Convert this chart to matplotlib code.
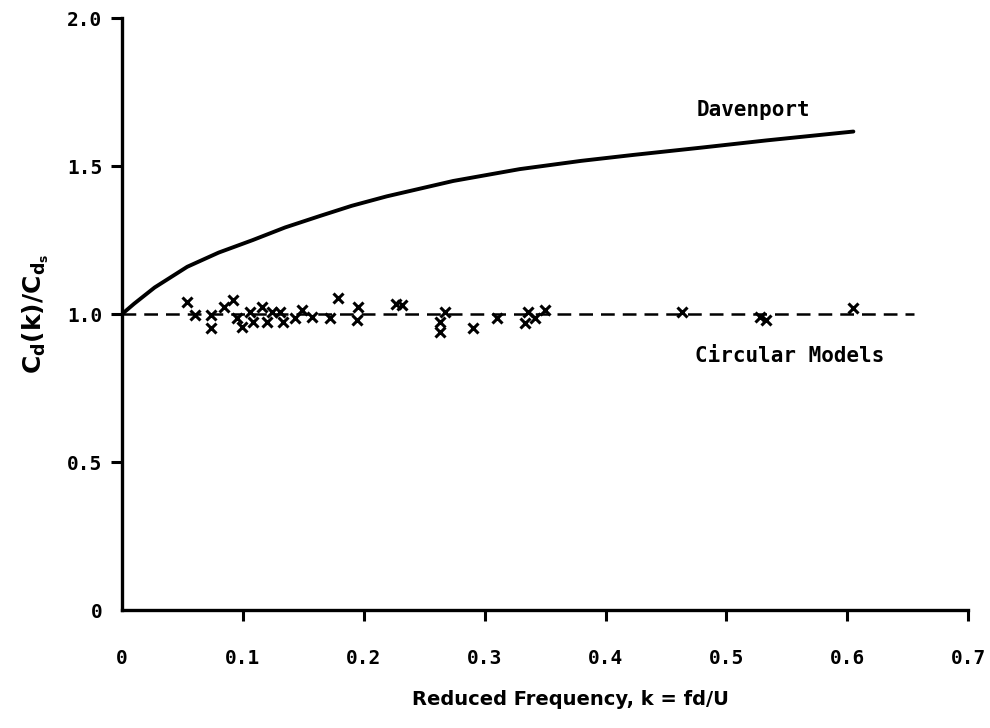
import matplotlib.pyplot as plt

# Davenport curve
davenport_k = [0.0, 0.01, 0.027, 0.054, 0.08, 0.108, 0.135, 0.164, 0.19, 0.219,
               0.274, 0.329, 0.38, 0.423, 0.48, 0.533, 0.605]
davenport_ratio = [1.0, 1.035, 1.09, 1.16, 1.208, 1.25, 1.293, 1.332, 1.366, 1.398,
                   1.45, 1.49, 1.518, 1.538, 1.563, 1.587, 1.617]

# circular model reference line
circular_k = [0.0, 0.655]
circular_ratio = [1.0, 1.0]

# measured points (x marks)
model_k = [0.054, 0.060, 0.074, 0.074, 0.084, 0.092, 0.095, 0.099, 0.106, 0.108,
           0.116, 0.120, 0.124, 0.131, 0.133, 0.143, 0.149, 0.157, 0.172, 0.179,
           0.195, 0.194, 0.227, 0.232, 0.267, 0.263, 0.263, 0.290, 0.310, 0.336,
           0.342, 0.333, 0.350, 0.463, 0.528, 0.533, 0.605]
model_ratio = [1.041, 0.997, 0.997, 0.953, 1.024, 1.047, 0.986, 0.956, 1.007, 0.973,
               1.024, 0.973, 1.007, 1.007, 0.973, 0.986, 1.014, 0.990, 0.986, 1.054,
               1.024, 0.980, 1.034, 1.030, 1.007, 0.973, 0.939, 0.953, 0.986, 1.007,
               0.986, 0.970, 1.014, 1.007, 0.990, 0.980, 1.020]

x_ticks = [0.0, 0.1, 0.2, 0.3, 0.4, 0.5, 0.6, 0.7]
x_labels = ["0", "0.1", "0.2", "0.3", "0.4", "0.5", "0.6", "0.7"]
y_ticks = [0.0, 0.5, 1.0, 1.5, 2.0]
y_labels = ["0", "0.5", "1.0", "1.5", "2.0"]

mono = "DejaVu Sans Mono"

fig = plt.figure(figsize=(9.9, 7.28), dpi=100)
ax = fig.add_axes([0.1232, 0.162, 0.8548, 0.813])

ax.plot(davenport_k, davenport_ratio, color="black", lw=2.8, solid_capstyle="round")
ax.plot(circular_k, circular_ratio, color="black", lw=1.8, linestyle=(0, (5.5, 3.2)))
ax.plot(model_k, model_ratio, linestyle="none", marker="x", color="black",
        markersize=7, markeredgewidth=2.2)

ax.text(0.522, 1.69, "Davenport", fontfamily=mono, fontweight="bold", fontsize=15,
        ha="center", va="center")
ax.text(0.5525, 0.86, "Circular Models", fontfamily=mono, fontweight="bold", fontsize=15,
        ha="center", va="center")

ax.set_xlim(0, 0.7)
ax.set_ylim(0, 2.0)
ax.set_xticks(x_ticks)
ax.set_xticklabels(x_labels, fontfamily=mono, fontweight="bold", fontsize=14)
ax.set_yticks(y_ticks)
ax.set_yticklabels(y_labels, fontfamily=mono, fontweight="bold", fontsize=14)
ax.tick_params(axis="x", direction="out", length=8, width=2.2, pad=20)
ax.tick_params(axis="y", direction="out", length=8, width=2.2, pad=6)
ax.xaxis.get_major_ticks()[0].tick1line.set_visible(False)
ax.yaxis.get_major_ticks()[0].tick1line.set_visible(False)

for side in ["top", "right"]:
    ax.spines[side].set_visible(False)
for side in ["left", "bottom"]:
    ax.spines[side].set_linewidth(2.4)

ax.set_ylabel(r"$\mathbf{C_d(k)/C_{d_s}}$", fontsize=18, labelpad=12)
ax.set_xlabel("Reduced Frequency, k = fd/U", fontfamily="DejaVu Sans", fontweight="bold",
              fontsize=14, labelpad=18)
ax.xaxis.set_label_coords(0.53, -0.135)

fig.savefig("out.png", dpi=100)
